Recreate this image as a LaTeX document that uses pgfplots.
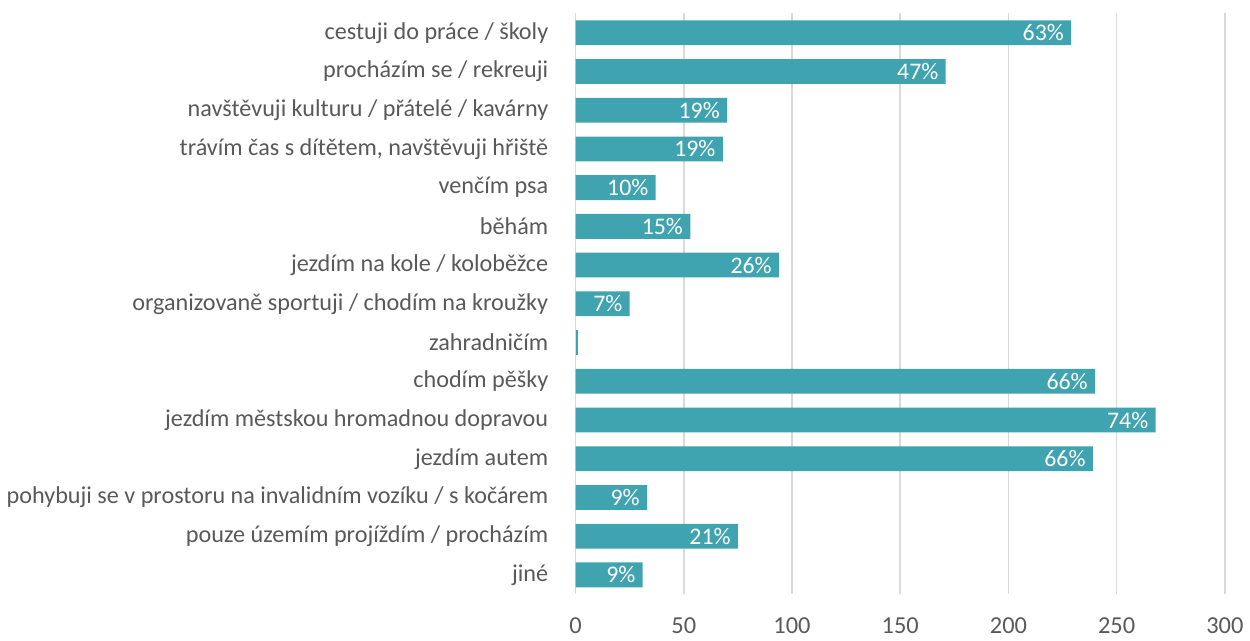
\documentclass[border=0pt]{standalone}
\usepackage{fontspec}
\setmainfont{Carlito}
\usepackage{pgfplots}
\usepackage{pgfplotstable}
\pgfplotsset{compat=1.18}
\definecolor{barc}{RGB}{63,163,176}
\definecolor{txt}{RGB}{89,89,89}
\definecolor{gridc}{RGB}{217,217,217}
\pgfplotstableread{
y val pct
0 229 63
1 171 47
2 70 19
3 68 19
4 37 10
5 53 15
6 94 26
7 25 7
9 240 66
10 268 74
11 239 66
12 33 9
13 75 21
14 31 9
}\maindata
\begin{document}
\begin{tikzpicture}
\begin{axis}[
  scale only axis,
  width=327.5pt, height=293pt,
  xmin=0, xmax=300,
  ymin=-0.5, ymax=14.5,
  y dir=reverse,
  xbar, bar width=12.5pt, bar shift=0pt,
  xtick={0,50,...,300},
  ytick={0,...,14},
  yticklabels={
    {cestuji do práce / školy},
    {procházím se / rekreuji},
    {navštěvuji kulturu / přátelé / kavárny},
    {trávím čas s dítětem, navštěvuji hřiště},
    {venčím psa},
    {běhám},
    {jezdím na kole / koloběžce},
    {organizovaně sportuji / chodím na kroužky},
    {zahradničím},
    {chodím pěšky},
    {jezdím městskou hromadnou dopravou},
    {jezdím autem},
    {pohybuji se v prostoru na invalidním vozíku / s kočárem},
    {pouze územím projíždím / procházím},
    {jiné}},
  xmajorgrids,
  grid style={gridc, line width=0.75pt},
  axis line style={draw=none},
  tick style={draw=none},
  /pgf/number format/assume math mode=true,
  xticklabel style={font=\fontsize{12.3}{14}\selectfont, text=txt, yshift=-8.5pt},
  yticklabel style={font=\fontsize{12.2}{14}\selectfont, text=txt, xshift=-6pt},
  clip=false,
]
\draw[gridc, line width=0.75pt] (axis cs:0,-0.5) -- (axis cs:0,14.5);
\addplot[fill=barc, draw=none,
  point meta=explicit,
  nodes near coords={\pgfmathprintnumber{\pgfplotspointmeta}\%},
  every node near coord/.append style={anchor=east, inner sep=0pt, xshift=-3.5pt, text=white, font=\fontsize{12}{13}\selectfont},
] table[x=val, y=y, meta=pct] {\maindata};
\addplot[fill=barc, draw=none] coordinates {(1,8)};
\end{axis}
\path (current axis.north) ++(0,6.75pt);
\end{tikzpicture}
\end{document}
